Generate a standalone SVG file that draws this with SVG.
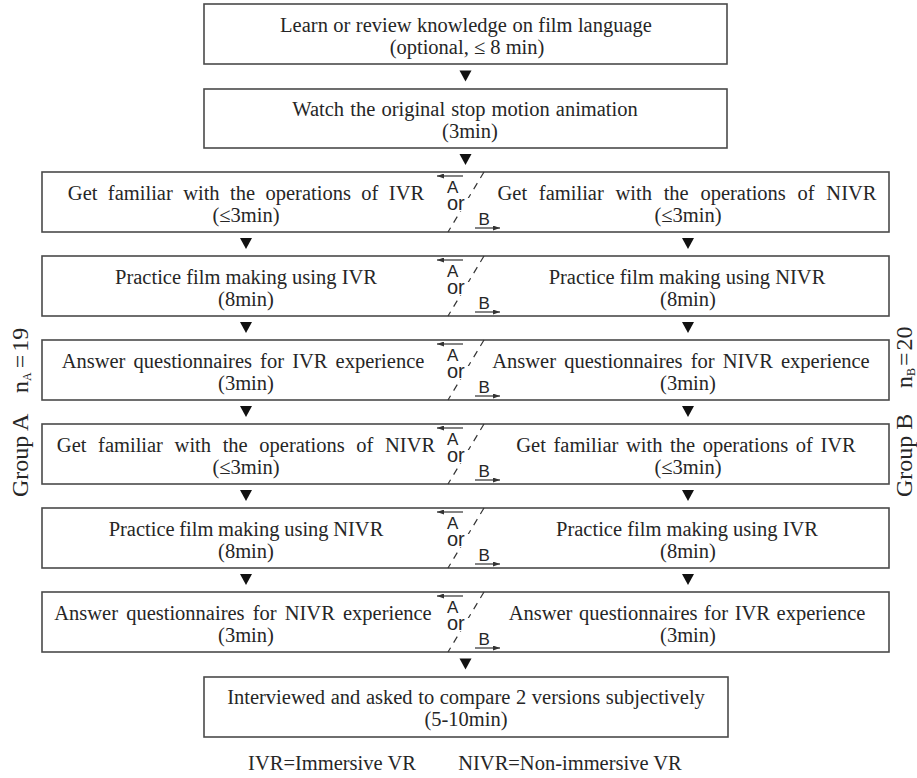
<svg xmlns="http://www.w3.org/2000/svg" width="917" height="778" viewBox="0 0 917 778">
<style>
.box{fill:#fff;stroke:#4a4a4a;stroke-width:1.6}
.t{font-family:"Liberation Serif","Times New Roman",serif;font-size:20.5px;fill:#262626;text-anchor:middle}
.s{font-family:"Liberation Sans",Arial,sans-serif;font-size:17px;fill:#262626}
.o{font-family:"Liberation Sans",Arial,sans-serif;font-size:20px;fill:#262626}
.side{font-family:"Liberation Serif","Times New Roman",serif;font-size:24px;fill:#262626}
.dash{stroke:#333;stroke-width:1.2;stroke-dasharray:7 6;fill:none}
.ab{stroke:#333;stroke-width:1.2;fill:none;marker-end:url(#ah)}
.tri{fill:#111}
</style>
<defs>
<marker id="ah" markerWidth="7" markerHeight="5" refX="7" refY="2.5" orient="auto" markerUnits="userSpaceOnUse">
<path d="M0,0 L7,2.5 L0,5 z" fill="#333"/>
</marker>
<g id="ormark">
<line class="dash" x1="484" y1="0" x2="448" y2="60"/>
<line class="ab" x1="463" y1="4" x2="437" y2="4"/>
<text class="s" x="447" y="21">A</text>
<rect x="447" y="26" width="24" height="13" fill="#fff"/>
<text class="o" x="447" y="38">or</text>
<text class="s" x="478.5" y="53">B</text>
<line class="ab" x1="475" y1="56" x2="500" y2="56"/>
</g>
</defs>
<rect width="917" height="778" fill="#fff"/>

<g id="connectors">
<polygon class="tri" points="459.5,70.5 471.5,70.5 465.5,81.5"/>
<polygon class="tri" points="459.5,154 471.5,154 465.5,165"/>
<polygon class="tri" points="240,238 252,238 246,249"/>
<polygon class="tri" points="682,238 694,238 688,249"/>
<polygon class="tri" points="240,322 252,322 246,333"/>
<polygon class="tri" points="682,322 694,322 688,333"/>
<polygon class="tri" points="240,406 252,406 246,417"/>
<polygon class="tri" points="682,406 694,406 688,417"/>
<polygon class="tri" points="240,490 252,490 246,501"/>
<polygon class="tri" points="682,490 694,490 688,501"/>
<polygon class="tri" points="240,574 252,574 246,585"/>
<polygon class="tri" points="682,574 694,574 688,585"/>
<polygon class="tri" points="459.5,658.5 471.5,658.5 465.5,669.5"/>
</g>

<g id="learn">
<rect class="box" x="204" y="4" width="523" height="60"/>
<text class="t" x="466" y="31.5" style="word-spacing:0.3px">Learn or review knowledge on film language</text>
<text class="t" x="467" y="53.5">(optional, ≤ 8 min)</text>
</g>
<g id="watch">
<rect class="box" x="204" y="89" width="523" height="59"/>
<text class="t" x="465" y="116" style="word-spacing:1px">Watch the original stop motion animation</text>
<text class="t" x="470" y="138">(3min)</text>
</g>

<g id="row1">
<rect class="box" x="42" y="172" width="847" height="60"/>
<text class="t" x="246" y="200" style="word-spacing:5.3px">Get familiar with the operations of IVR</text>
<text class="t" x="246" y="222">(≤3min)</text>
<text class="t" x="687" y="200" style="word-spacing:6.6px">Get familiar with the operations of NIVR</text>
<text class="t" x="688" y="222">(≤3min)</text>
<use href="#ormark" y="172"/>
</g>
<g id="row2">
<rect class="box" x="42" y="256" width="847" height="60"/>
<text class="t" x="246" y="284">Practice film making using IVR</text>
<text class="t" x="246" y="306">(8min)</text>
<text class="t" x="687" y="284">Practice film making using NIVR</text>
<text class="t" x="688" y="306">(8min)</text>
<use href="#ormark" y="256"/>
</g>
<g id="row3">
<rect class="box" x="42" y="340" width="847" height="60"/>
<text class="t" x="243" y="368" style="word-spacing:3px">Answer questionnaires for IVR experience</text>
<text class="t" x="246" y="390">(3min)</text>
<text class="t" x="681" y="368" style="word-spacing:3px">Answer questionnaires for NIVR experience</text>
<text class="t" x="688" y="390">(3min)</text>
<use href="#ormark" y="340"/>
</g>
<g id="row4">
<rect class="box" x="42" y="424" width="847" height="60"/>
<text class="t" x="246" y="452" style="word-spacing:6.5px">Get familiar with the operations of NIVR</text>
<text class="t" x="246" y="474">(≤3min)</text>
<text class="t" x="686" y="452" style="word-spacing:2.5px">Get familiar with the operations of IVR</text>
<text class="t" x="688" y="474">(≤3min)</text>
<use href="#ormark" y="424"/>
</g>
<g id="row5">
<rect class="box" x="42" y="508" width="847" height="60"/>
<text class="t" x="246" y="536" style="word-spacing:-0.5px">Practice film making using NIVR</text>
<text class="t" x="246" y="558">(8min)</text>
<text class="t" x="687" y="536">Practice film making using IVR</text>
<text class="t" x="688" y="558">(8min)</text>
<use href="#ormark" y="508"/>
</g>
<g id="row6">
<rect class="box" x="42" y="592" width="847" height="60"/>
<text class="t" x="243" y="620" style="word-spacing:3px">Answer questionnaires for NIVR experience</text>
<text class="t" x="246" y="642">(3min)</text>
<text class="t" x="687" y="620" style="word-spacing:1.5px">Answer questionnaires for IVR experience</text>
<text class="t" x="688" y="642">(3min)</text>
<use href="#ormark" y="592"/>
</g>

<g id="interview">
<rect class="box" x="204" y="677" width="524" height="60"/>
<text class="t" x="466" y="704" style="word-spacing:0.5px">Interviewed and asked to compare 2 versions subjectively</text>
<text class="t" x="466" y="726">(5-10min)</text>
</g>

<g id="groupA">
<text class="side" transform="translate(28,497) rotate(-90)">Group A</text>
<text class="side" transform="translate(28,393) rotate(-90)">n<tspan font-size="12" dy="3">A</tspan><tspan dy="-3" dx="4">=</tspan><tspan dx="3">19</tspan></text>
</g>
<g id="groupB">
<text class="side" transform="translate(912,497) rotate(-90)">Group B</text>
<text class="side" transform="translate(912,388) rotate(-90)">n<tspan font-size="12" dy="3">B</tspan><tspan dy="-3" dx="2">=</tspan><tspan dx="2">20</tspan></text>
</g>

<g id="legend">
<text class="t" x="332" y="770">IVR=Immersive VR</text>
<text class="t" x="570" y="770">NIVR=Non-immersive VR</text>
</g>
</svg>
